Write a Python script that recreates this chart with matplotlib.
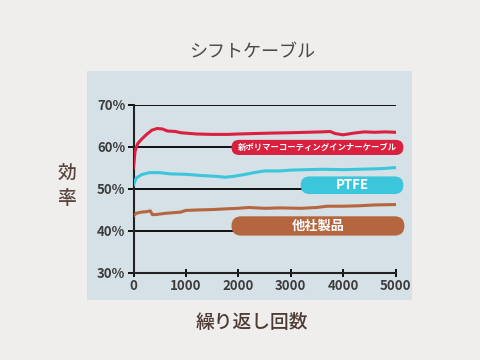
import matplotlib.pyplot as plt
from matplotlib.patches import Rectangle, FancyBboxPatch

plt.rcParams['font.family'] = ['Noto Sans CJK JP', 'DejaVu Sans']

# データ（写真から読み取り）
red_x = [0, 30, 80, 150, 250, 350, 450, 550, 650, 800, 900, 1000, 1200, 1500, 1800, 2000,
         2300, 2600, 3000, 3300, 3600, 3750, 3850, 4000, 4200, 4400, 4600, 4800, 5000]
red_y = [55.0, 59.0, 60.8, 61.8, 63.0, 64.0, 64.4, 64.3, 63.8, 63.7, 63.4, 63.3, 63.1, 63.0, 63.0, 63.1,
         63.2, 63.3, 63.4, 63.5, 63.6, 63.7, 63.2, 62.9, 63.3, 63.6, 63.5, 63.6, 63.5]

cyan_x = [0, 50, 150, 300, 500, 700, 1000, 1300, 1600, 1750, 1900, 2100, 2300, 2500, 2800,
          3000, 3300, 3600, 4000, 4300, 4600, 4800, 5000]
cyan_y = [51.0, 52.6, 53.4, 53.9, 53.9, 53.6, 53.5, 53.2, 53.0, 52.8, 53.0, 53.4, 53.9, 54.3, 54.3,
          54.5, 54.6, 54.7, 54.6, 54.7, 54.8, 54.9, 55.1]

brown_x = [0, 50, 150, 250, 320, 360, 420, 600, 900, 1000, 1200, 1500, 1800, 2000, 2200, 2500,
           2800, 3200, 3500, 3700, 4000, 4300, 4600, 5000]
brown_y = [43.6, 44.2, 44.5, 44.6, 44.8, 43.9, 43.9, 44.2, 44.5, 44.9, 45.0, 45.1, 45.3, 45.4, 45.6, 45.4,
           45.5, 45.4, 45.6, 45.9, 45.9, 46.0, 46.2, 46.3]

labels = ['新ポリマーコーティングインナーケーブル', 'PTFE', '他社製品']
colors = ['#d9213f', '#3cc6dc', '#b5663f']
# ラベル枠 (x0, x1, y0, y1)
boxes = [(1870, 5150, 58.1, 61.7), (3190, 5150, 48.8, 53.0), (1870, 5170, 38.9, 43.5)]
label_sizes = [6.0, 9.5, 9.5]

yticks = [30, 40, 50, 60, 70]
xticks = [0, 1000, 2000, 3000, 4000, 5000]

fig = plt.figure(figsize=(4.8, 3.6), dpi=100)
fig.patch.set_facecolor('#f0eeec')
fig.patches.append(Rectangle((87/480, 1-300/360), 325/480, 229/360, transform=fig.transFigure,
                             facecolor='#d6e1e7', edgecolor='none', zorder=-5))

ax = fig.add_axes([133.5/480, 1-273/360, 262/480, 168/360])
ax.set_zorder(2)
ax.set_facecolor('none')
ax.set_xlim(0, 5000)
ax.set_ylim(30, 70)

for yv in yticks[1:]:
    ax.axhline(yv, color='black', lw=1.3, zorder=1)

ax.plot(red_x, red_y, color=colors[0], lw=2.2, zorder=3)
ax.plot(cyan_x, cyan_y, color=colors[1], lw=2.2, zorder=3)
ax.plot(brown_x, brown_y, color=colors[2], lw=2.2, zorder=3)

aspect = (40/168) / (5000/262)
for (x0, x1, y0, y1), c, t, s in zip(boxes, colors, labels, label_sizes):
    r = (y1 - y0) / 2 / aspect
    p = FancyBboxPatch((x0, y0), x1 - x0, y1 - y0,
                       boxstyle='round,pad=0,rounding_size=%f' % r,
                       mutation_aspect=aspect, facecolor=c, edgecolor='none',
                       zorder=4, clip_on=False)
    ax.add_patch(p)
    ax.text((x0 + x1) / 2, (y0 + y1) / 2, t, color='white', fontsize=s, fontweight='bold',
            ha='center', va='center', zorder=5)

ax.set_yticks(yticks)
ax.set_yticklabels(['%d%%' % v for v in yticks])
ax.set_xticks(xticks)
for sp in ['top', 'right']:
    ax.spines[sp].set_visible(False)
for sp in ['left', 'bottom']:
    ax.spines[sp].set_linewidth(1.5)
    ax.spines[sp].set_color('#222222')
ax.tick_params(axis='y', direction='out', length=4, width=1.3, labelsize=9.5, labelcolor='#3d3d3d', pad=2)
ax.tick_params(axis='x', direction='inout', length=6, width=1.3, labelsize=9.5, labelcolor='#3d3d3d', pad=1)
for lab in ax.get_xticklabels() + ax.get_yticklabels():
    lab.set_fontweight('bold')

fig.text(252/480, 1-52/360, 'シフトケーブル', fontsize=13, color='#4a4a4a', ha='center', va='center')
fig.text(252/480, 1-322/360, '繰り返し回数', fontsize=13.5, color='#4d3b36', ha='center', va='center',
         fontweight='medium')
fig.text(67/480, 1-186/360, '効\n率', fontsize=13.5, color='#5a4640', ha='center', va='center',
         linespacing=1.45, fontweight='medium')

fig.savefig('out.png', dpi=100, facecolor=fig.get_facecolor())
